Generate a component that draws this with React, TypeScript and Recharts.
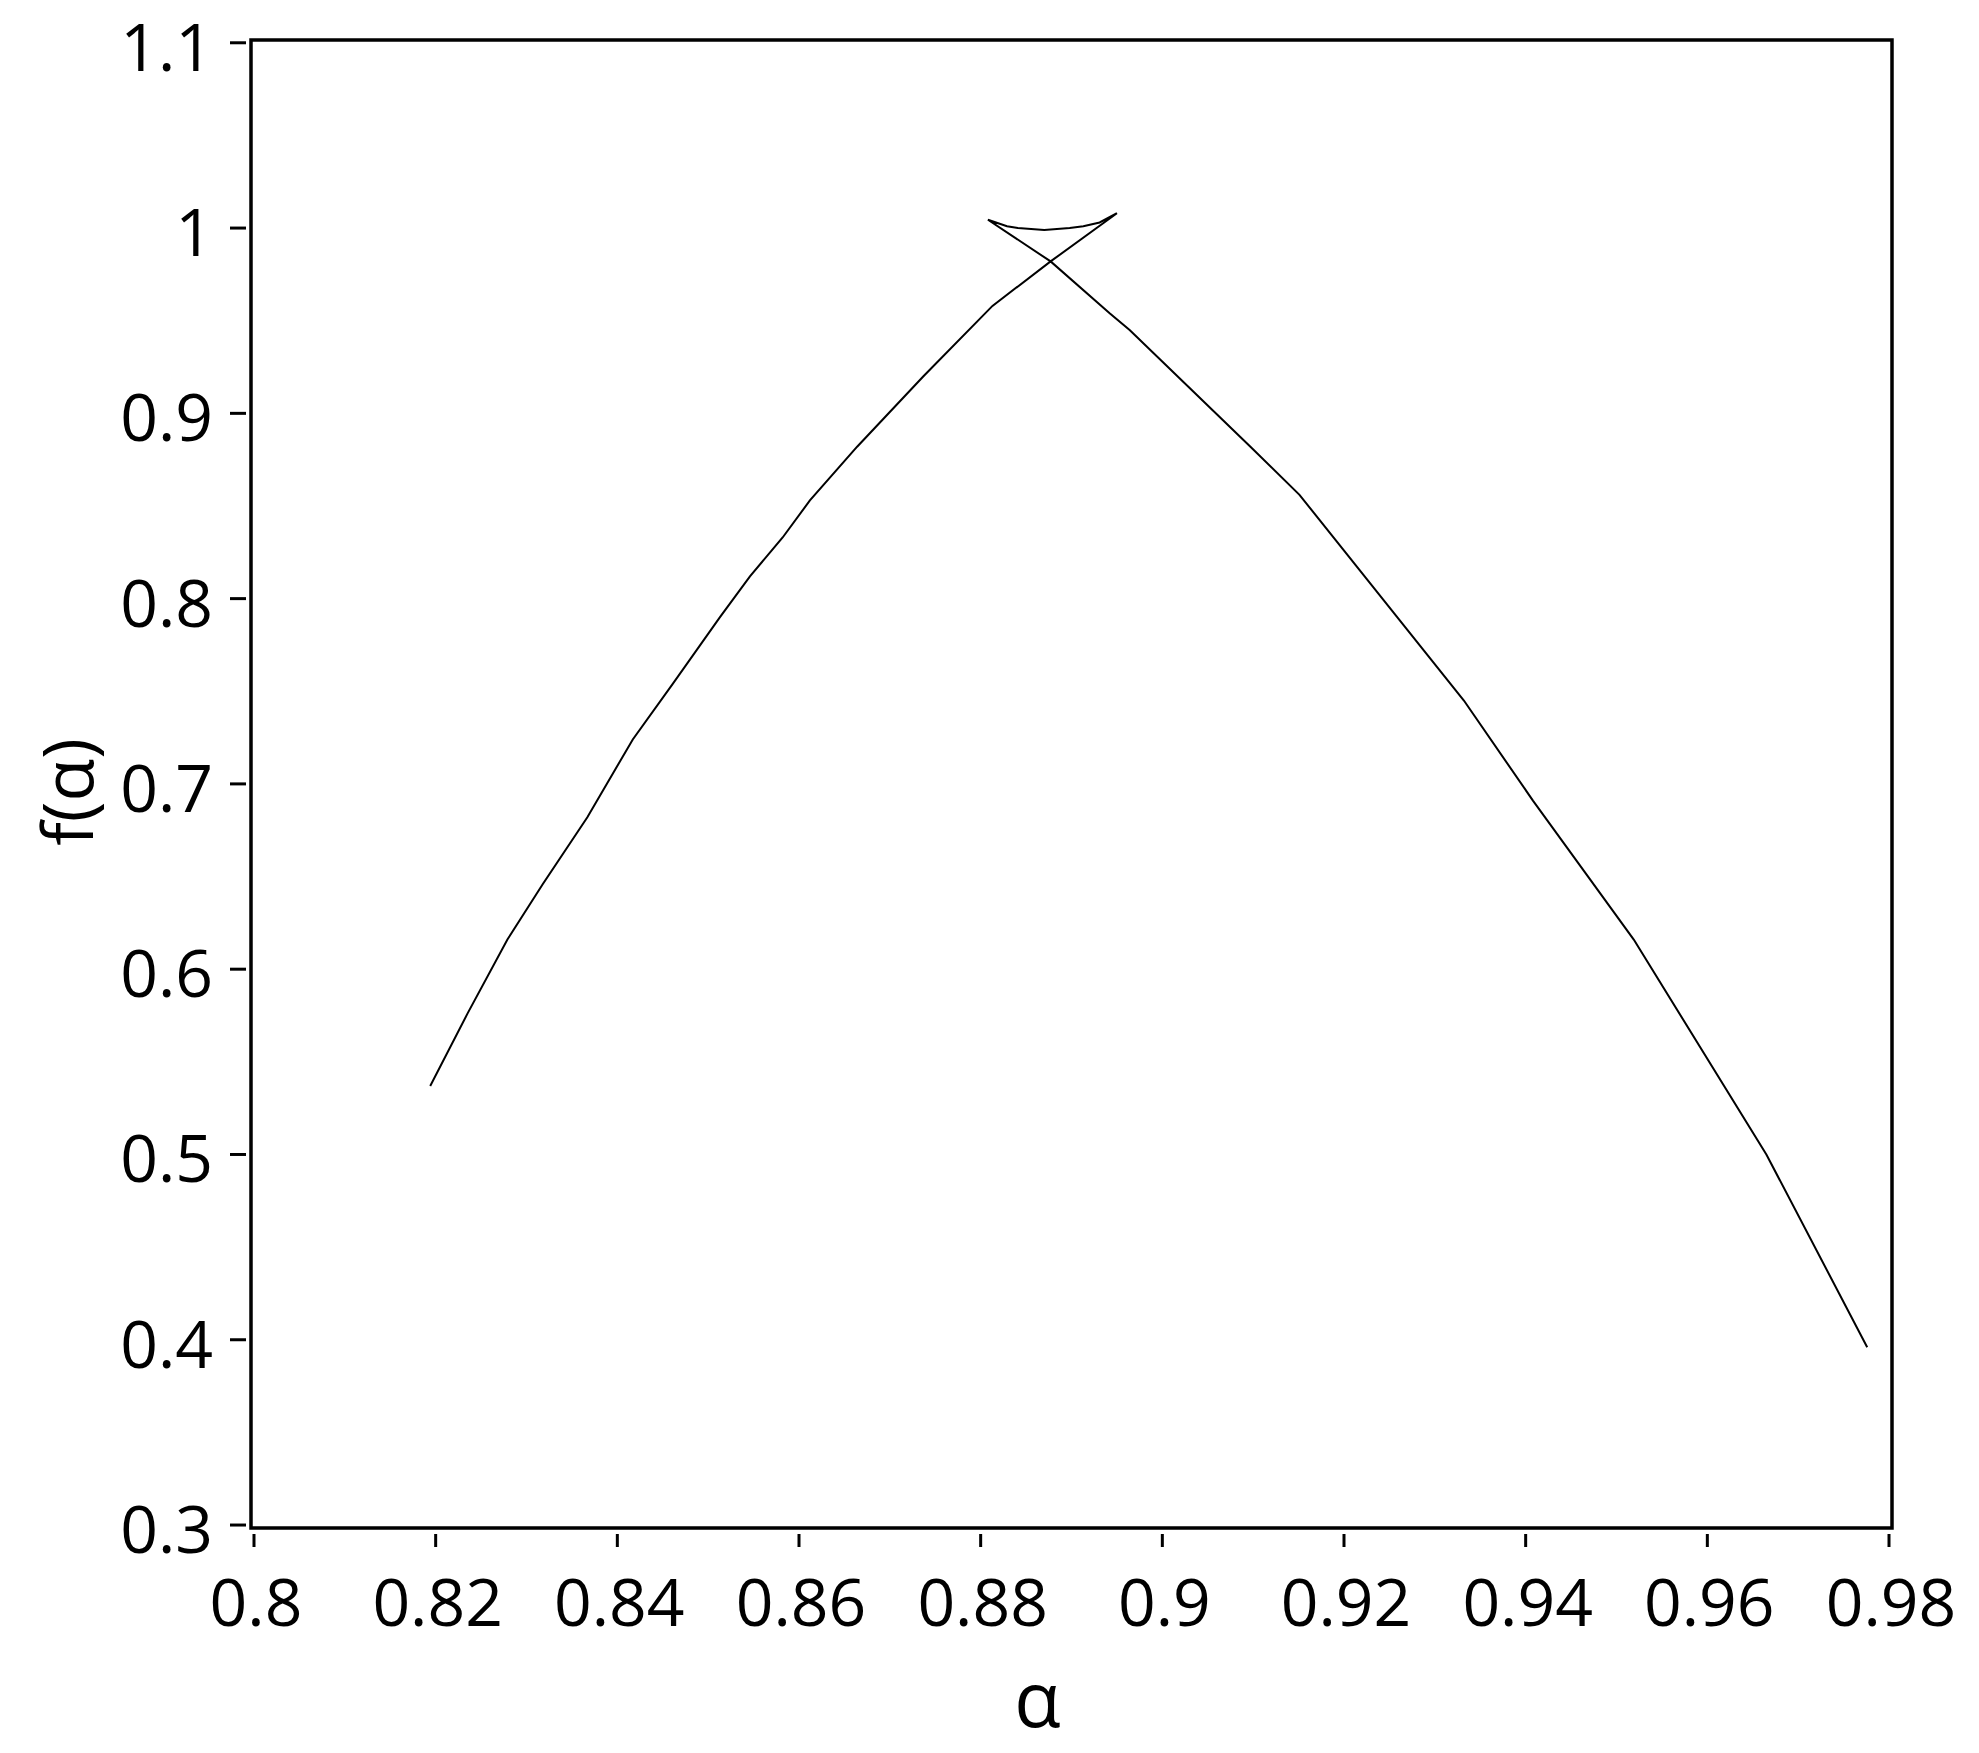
import React from 'react';
import { LineChart, Line, XAxis, YAxis, ReferenceArea } from 'recharts';

// alpha values (x) along the traced curve, in drawing order
const alphaValues = [
  0.8194, 0.8235, 0.8279, 0.8318, 0.8367, 0.8417, 0.8461, 0.8513, 0.8546, 0.8582,
  0.8612, 0.8664, 0.8737, 0.8813, 0.8877, 0.895,
  0.8931, 0.8913, 0.8898, 0.887, 0.8841, 0.8829, 0.8808,
  0.8877, 0.8942, 0.8964, 0.9097, 0.9151, 0.9332, 0.9408, 0.9519, 0.9665, 0.9776,
];
// f(alpha) values (y)
const fValues = [
  0.537, 0.576, 0.616, 0.646, 0.682, 0.724, 0.754, 0.79, 0.812, 0.833,
  0.853, 0.882, 0.92, 0.958, 0.982, 1.008,
  1.003, 1.001, 1.0, 0.999, 1.0, 1.001, 1.0045,
  0.982, 0.954, 0.945, 0.882, 0.856, 0.745, 0.691, 0.616, 0.5, 0.396,
];

const xTicks = [0.8, 0.82, 0.84, 0.86, 0.88, 0.9, 0.92, 0.94, 0.96, 0.98];
const yTicks = [0.3, 0.4, 0.5, 0.6, 0.7, 0.8, 0.9, 1, 1.1];

const xDomain = [0.79967, 0.98033];
const yDomain = [0.2984, 1.1015];

const data = alphaValues.map((a, i) => ({ a, f: fValues[i] }));

const FONT = '"Open Sans", "Noto Sans", sans-serif';

const fmt = (v: number) => String(Number(v.toFixed(2)));

const YTick = (props: any) => {
  const { x, y, payload } = props;
  return (
    <g>
      <line x1={x - 21} x2={x - 5} y1={y} y2={y} stroke="#000" strokeWidth={3} />
      <text x={x - 38} y={y + 28} textAnchor="end" fontSize={66} fontFamily={FONT} fill="#000">
        {fmt(payload.value)}
      </text>
    </g>
  );
};

const XTick = (props: any) => {
  const { x, y, payload } = props;
  return (
    <g>
      <line x1={x} x2={x} y1={y + 6} y2={y + 19} stroke="#000" strokeWidth={3} />
      <text x={x + 2} y={y + 98} textAnchor="middle" fontSize={66} fontFamily={FONT} fill="#000">
        {fmt(payload.value)}
      </text>
    </g>
  );
};

const XLabel = (props: any) => {
  const vb = props.viewBox || {};
  return (
    <text
      x={vb.x + vb.width / 2 - 34}
      y={vb.y + 199}
      textAnchor="middle"
      fontSize={76}
      fontFamily={FONT}
      fill="#000"
    >
      α
    </text>
  );
};

const YLabel = (props: any) => {
  const vb = props.viewBox || {};
  const cx = 66;
  const cy = vb.y + vb.height / 2 + 8;
  return (
    <text
      x={cx}
      y={cy}
      textAnchor="middle"
      dominantBaseline="central"
      fontSize={70}
      fontFamily={FONT}
      fill="#000"
      transform={`rotate(-90, ${cx}, ${cy})`}
    >
      f(α)
    </text>
  );
};

export default function App() {
  return (
    <div style={{ width: 1979, height: 1753, background: '#fff' }}>
      <style>{'body{margin:0;background:#fff}'}</style>
      <LineChart
        width={1979}
        height={1753}
        data={data}
        margin={{ top: 40, right: 87, bottom: 0, left: 0 }}
      >
        <XAxis
          dataKey="a"
          type="number"
          domain={xDomain}
          ticks={xTicks}
          allowDataOverflow
          axisLine={false}
          tickLine={false}
          tickSize={0}
          tickMargin={0}
          tick={<XTick />}
          height={225}
          interval={0}
          label={XLabel}
        />
        <YAxis
          dataKey="f"
          type="number"
          domain={yDomain}
          ticks={yTicks}
          allowDataOverflow
          axisLine={false}
          tickLine={false}
          tickSize={0}
          tickMargin={0}
          tick={<YTick />}
          width={251}
          interval={0}
          label={YLabel}
        />
        <ReferenceArea
          x1={xDomain[0]}
          x2={xDomain[1]}
          y1={yDomain[0]}
          y2={yDomain[1]}
          fill="none"
          stroke="#000"
          strokeWidth={3.5}
          ifOverflow="visible"
        />
        <Line
          type="linear"
          dataKey="f"
          stroke="#000"
          strokeWidth={2}
          dot={false}
          activeDot={false}
          isAnimationActive={false}
        />
      </LineChart>
    </div>
  );
}
